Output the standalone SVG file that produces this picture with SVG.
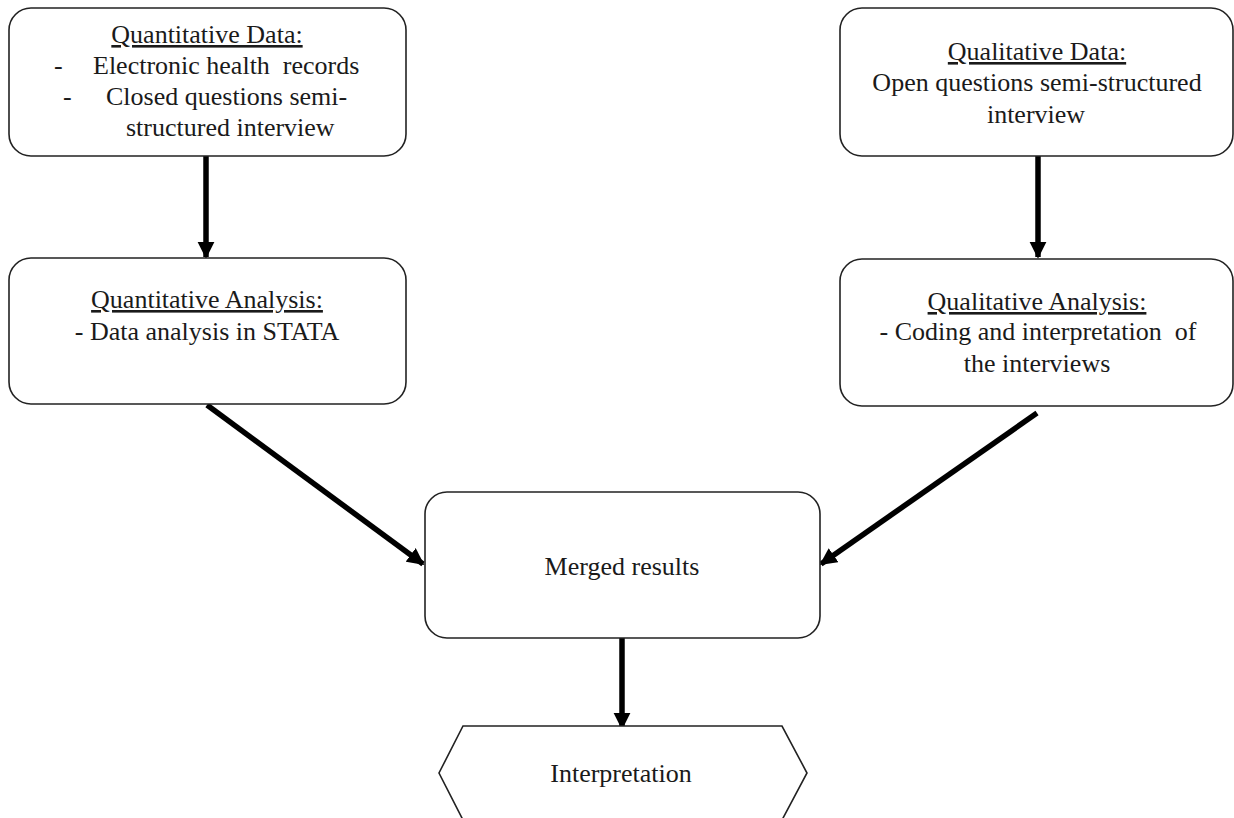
<svg xmlns="http://www.w3.org/2000/svg" width="1234" height="818" viewBox="0 0 1234 818">
  <style>
    .box { fill: #ffffff; stroke: #222222; stroke-width: 1.6; }
    .lbl { font-family: "Liberation Serif", "Times New Roman", serif; font-size: 26px; fill: #1a1a1a; white-space: pre; }
    .mid { text-anchor: middle; }
    .head { text-decoration: underline; }
    .conn { stroke: #000000; stroke-width: 5.5; fill: none; marker-end: url(#arrow); }
  </style>
  <defs>
    <marker id="arrow" viewBox="0 0 10 10" refX="9" refY="5" markerWidth="3.1" markerHeight="3.1" orient="auto" markerUnits="strokeWidth">
      <path d="M0,0 L10,5 L0,10 Z" fill="#000000"/>
    </marker>
  </defs>
  <rect width="1234" height="818" fill="#ffffff"/>

  <g id="connectors">
    <line class="conn" x1="206" y1="156" x2="206" y2="257"/>
    <line class="conn" x1="1038" y1="156" x2="1038" y2="257"/>
    <line class="conn" x1="207" y1="405" x2="423" y2="564"/>
    <line class="conn" x1="1037" y1="413" x2="821" y2="564"/>
    <line class="conn" x1="622" y1="638" x2="622" y2="728"/>
  </g>

  <g id="quantitative-data">
    <rect class="box" x="9" y="8" width="397" height="148" rx="22"/>
    <text class="lbl mid head" x="207" y="43">Quantitative Data:</text>
    <text class="lbl" x="54" y="74">-</text>
    <text class="lbl" x="93" y="74">Electronic health  records</text>
    <text class="lbl" x="63" y="105">-</text>
    <text class="lbl" x="106" y="105">Closed questions semi-</text>
    <text class="lbl" x="126" y="136">structured interview</text>
  </g>

  <g id="qualitative-data">
    <rect class="box" x="840" y="8" width="393" height="148" rx="22"/>
    <text class="lbl mid head" x="1037" y="60">Qualitative Data:</text>
    <text class="lbl mid" x="1037" y="91">Open questions semi-structured</text>
    <text class="lbl mid" x="1036" y="123">interview</text>
  </g>

  <g id="quantitative-analysis">
    <rect class="box" x="9" y="258" width="397" height="146" rx="22"/>
    <text class="lbl mid head" x="207" y="308">Quantitative Analysis:</text>
    <text class="lbl mid" x="207" y="340">- Data analysis in STATA</text>
  </g>

  <g id="qualitative-analysis">
    <rect class="box" x="840" y="259" width="393" height="147" rx="22"/>
    <text class="lbl mid head" x="1037" y="310">Qualitative Analysis:</text>
    <text class="lbl mid" x="1038" y="340">- Coding and interpretation  of</text>
    <text class="lbl mid" x="1037" y="372">the interviews</text>
  </g>

  <g id="merged-results">
    <rect class="box" x="425" y="492" width="395" height="146" rx="22"/>
    <text class="lbl mid" x="622" y="575">Merged results</text>
  </g>

  <g id="interpretation">
    <polygon class="box" points="463,726 782,726 807,773 782,820 463,820 439,773"/>
    <text class="lbl mid" x="621" y="782">Interpretation</text>
  </g>
</svg>
